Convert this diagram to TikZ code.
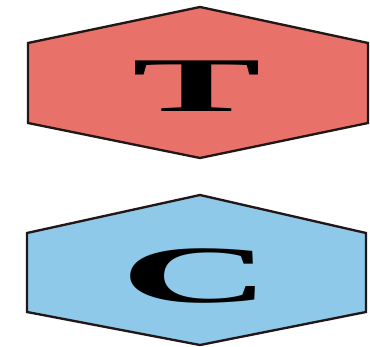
\documentclass[tikz,border=0pt]{standalone}
\usepackage{fontspec}
\setmainfont{Liberation Serif}
\usepackage{xcolor}
\usepackage{tikz}
\definecolor{hexred}{RGB}{232,114,106}
\definecolor{hexblue}{RGB}{142,201,234}
\definecolor{hexline}{RGB}{35,22,22}

\begin{document}
\begin{tikzpicture}[x=0.03cm,y=-0.03cm]
  \useasboundingbox (0,0) rectangle (370,347);
  % Top hexagon: T
  \draw[line width=2pt,fill=hexred,draw=hexline,line join=miter]
    (200,7) -- (368,43) -- (368,123) -- (200,158) -- (28,123) -- (28,43) -- cycle;
  \node (lt) at (197,86) {\scalebox{2.5}[1]{\fontsize{66}{66}\selectfont\bfseries T}};
  % Bottom hexagon: C
  \draw[line width=2pt,fill=hexblue,draw=hexline,line join=miter]
    (200,195) -- (366,233) -- (366,312) -- (200,345) -- (27,312) -- (27,233) -- cycle;
  \node (lc) at (196,276) {\scalebox{2.7}[1.05]{\fontsize{66}{66}\selectfont\bfseries C}};
\end{tikzpicture}
\end{document}
